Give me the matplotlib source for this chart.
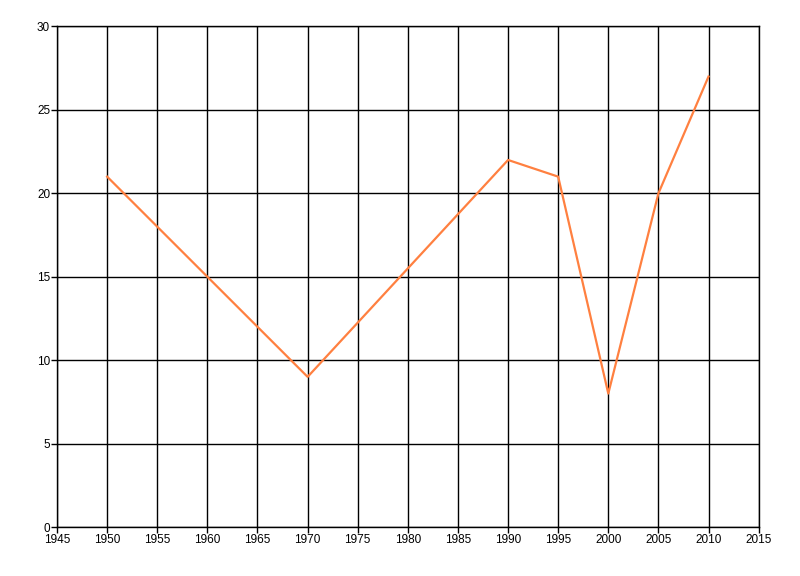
import matplotlib
matplotlib.use("Agg")
import matplotlib.pyplot as plt

# data
years = [1950, 1970, 1990, 1995, 2000, 2005, 2010]
values = [21, 9, 22, 21, 8, 20, 27]

x_ticks = list(range(1945, 2016, 5))
y_ticks = list(range(0, 31, 5))

plt.rcParams['font.family'] = ['Liberation Sans', 'DejaVu Sans']

fig = plt.figure(figsize=(8, 5.76), dpi=100)
ax = fig.add_axes([0.0713, 0.085, 0.877, 0.869])

ax.plot(years, values, color='#FF8040', linewidth=1.6, zorder=3)

ax.set_xlim(1945, 2015)
ax.set_ylim(0, 30)
ax.set_xticks(x_ticks)
ax.set_yticks(y_ticks)
ax.grid(True, color='black', linewidth=1)
ax.set_axisbelow(True)

# the outermost grid lines look like a full frame
for side in ('left', 'bottom', 'top', 'right'):
    ax.spines[side].set_linewidth(1)
    ax.spines[side].set_color('black')

ax.tick_params(axis='both', length=4, width=1, labelsize=8.5, pad=1, colors='black')

fig.savefig('out.png', dpi=100)
